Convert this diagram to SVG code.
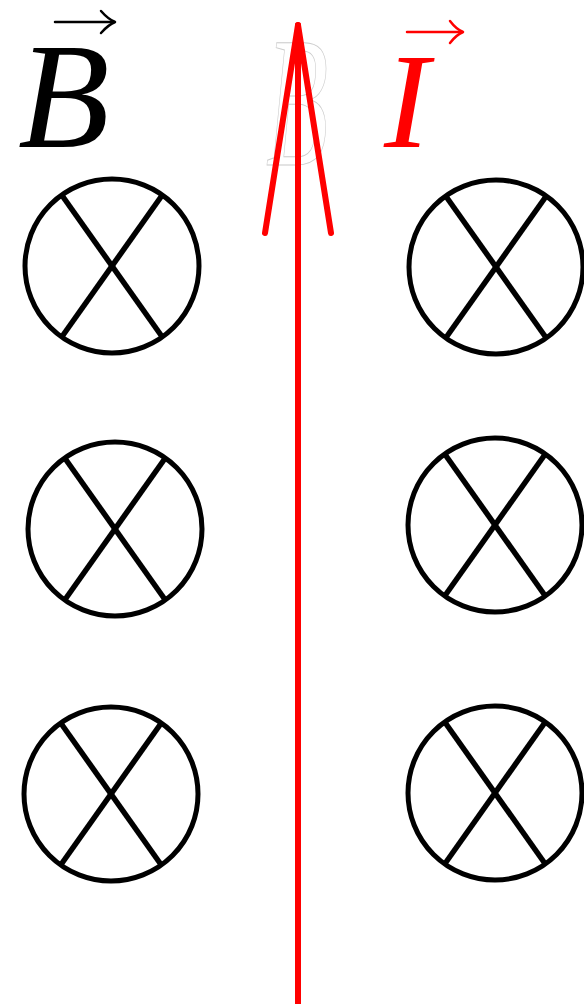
<svg xmlns="http://www.w3.org/2000/svg" width="584" height="1004" viewBox="0 0 584 1004">
  <style>
    .ring { fill: none; stroke: #000; stroke-width: 5; }
    .bar { stroke: #000; stroke-width: 5.5; stroke-linecap: butt; }
    .lbl { font-family: "Liberation Serif", "Times New Roman", serif; font-style: italic; }
    .vec { fill: none; stroke-width: 2.5; stroke-linecap: round; stroke-linejoin: round; }
    .red { stroke: #ff0000; stroke-width: 6; stroke-linecap: round; fill: none; }
  </style>
  <defs>
    <g id="cross">
      <circle class="ring" cx="0" cy="0" r="87"/>
      <line class="bar" x1="-51" y1="-72" x2="51" y2="72"/>
      <line class="bar" x1="51" y1="-72" x2="-51" y2="72"/>
    </g>
  </defs>
  <rect width="584" height="1004" fill="#fff"/>

  <g id="label-B">
    <text class="lbl" x="18" y="147" font-size="150" fill="#000">B</text>
    <g class="vec" stroke="#000">
      <line x1="55" y1="22" x2="114" y2="22"/>
      <path d="M101 11 Q108 19 115 22 Q108 25 101 33"/>
    </g>
  </g>

  <g id="label-I">
    <text class="lbl" x="384" y="147" font-size="136" fill="#ff0000">I</text>
    <g class="vec" stroke="#ff0000">
      <line x1="407" y1="32" x2="462" y2="32"/>
      <path d="M450 21 Q456 29 463 32 Q456 35 450 43"/>
    </g>
  </g>

  <g id="ghost-B">
    <text class="lbl" x="0" y="0" font-size="150" fill="none" stroke="#cccccc" stroke-width="0.8" transform="translate(266 165) scale(0.68 1.25)">B</text>
  </g>

  <g id="coil-1"><use href="#cross" x="112" y="266"/></g>
  <g id="coil-2"><use href="#cross" x="496" y="267"/></g>
  <g id="coil-3"><use href="#cross" x="115" y="529"/></g>
  <g id="coil-4"><use href="#cross" x="495" y="525"/></g>
  <g id="coil-5"><use href="#cross" x="111" y="794"/></g>
  <g id="coil-6"><use href="#cross" x="495" y="793"/></g>

  <g id="connectors">
    <line class="red" x1="298" y1="1010" x2="298" y2="26" stroke-linecap="butt"/>
    <line class="red" x1="298" y1="25" x2="265" y2="233"/>
    <line class="red" x1="298" y1="25" x2="331" y2="233"/>
  </g>
</svg>
